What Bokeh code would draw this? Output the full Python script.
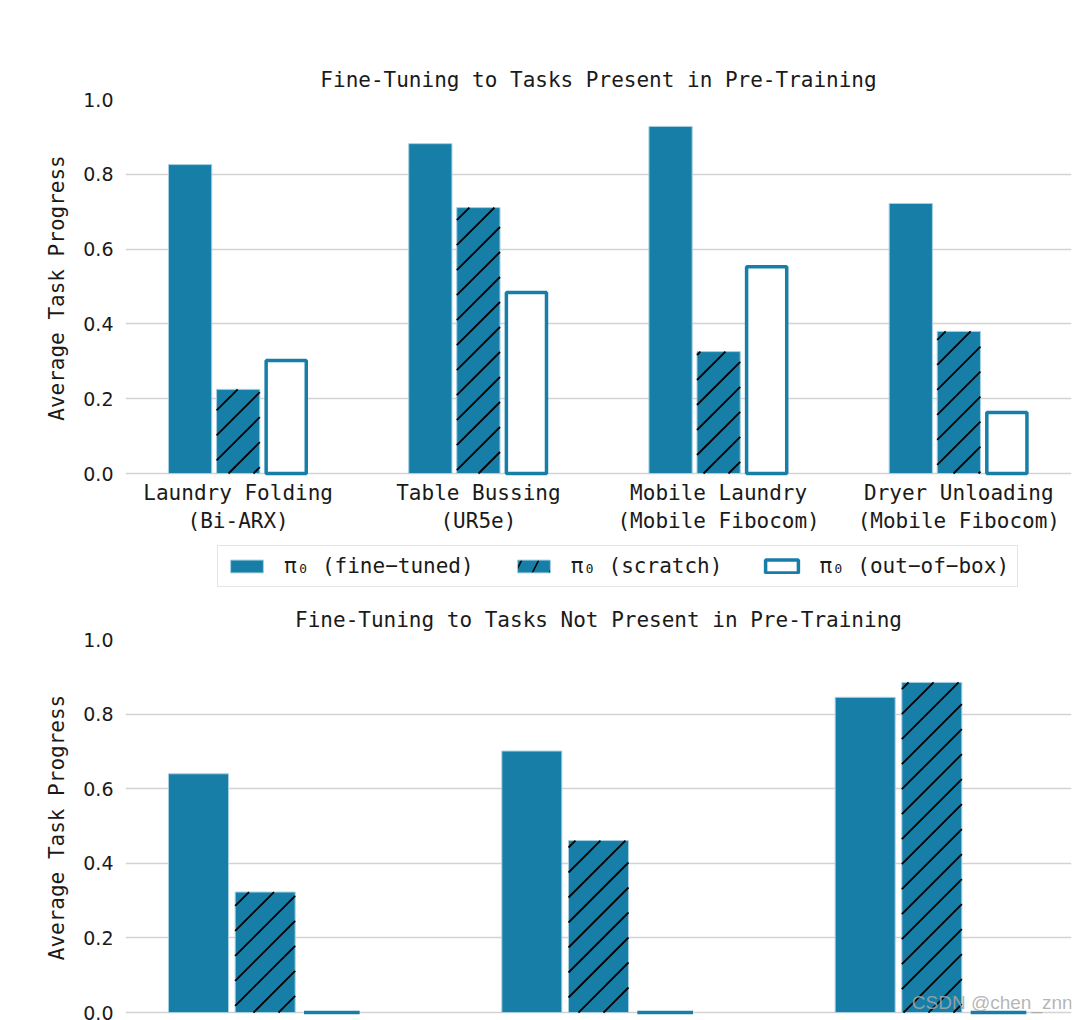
from bokeh.plotting import figure
from bokeh.models import (ColumnDataSource, FixedTicker, Legend, LegendItem, Label,
                          Range1d, PrintfTickFormatter)
from bokeh.layouts import column
from bokeh.embed import file_html
from bokeh.resources import INLINE
from bokeh.transform import dodge

# ---------------- data ----------------
top_title = "Fine-Tuning to Tasks Present in Pre-Training"
bottom_title = "Fine-Tuning to Tasks Not Present in Pre-Training"

top_tasks = ["Laundry Folding\n(Bi-ARX)", "Table Bussing\n(UR5e)",
             "Mobile Laundry\n(Mobile Fibocom)", "Dryer Unloading\n(Mobile Fibocom)"]
top_finetuned = [0.826, 0.882, 0.928, 0.722]
top_scratch = [0.225, 0.711, 0.326, 0.380]
top_outofbox = [0.302, 0.484, 0.553, 0.163]

bottom_finetuned = [0.640, 0.701, 0.845]
bottom_scratch = [0.323, 0.461, 0.885]
bottom_outofbox = [0.0, 0.0, 0.0]

series_labels = ["π₀ (fine−tuned)", "π₀ (scratch)", "π₀ (out−of−box)"]
y_ticks = [0.0, 0.2, 0.4, 0.6, 0.8, 1.0]
y_label = "Average Task Progress"
watermark = "CSDN @chen_znn"

# ---------------- style ----------------
BLUE = "#177fa7"
EDGE = "#a6d0e2"
MONO = "DejaVu Sans Mono"
SANS = "DejaVu Sans"
TXT = "#1a1a1a"
GRID = "#d3d3d3"
FRAME_W = 946
BAR_W = 0.18
HATCH_SPACING_PX = 25

FT_STYLE = dict(fill_color=BLUE, line_color=EDGE, line_width=1)
SC_STYLE = dict(fill_color=BLUE, line_color=EDGE, line_width=1)
OB_STYLE = dict(fill_color="white", line_color=BLUE, line_width=3.5)


def hatch_segments(xs, tops, width, xr, yr, frame_h):
    """45-degree '/' hatch lines (in screen space) clipped to each bar."""
    kx = FRAME_W / (xr[1] - xr[0])
    ky = frame_h / (yr[1] - yr[0])
    x0s, y0s, x1s, y1s = [], [], [], []
    for xc, t in zip(xs, tops):
        uL = (xc - width / 2 - xr[0]) * kx
        uR = (xc + width / 2 - xr[0]) * kx
        vB = (0 - yr[0]) * ky
        vT = (t - yr[0]) * ky
        kmin = int((vB - uR) // HATCH_SPACING_PX) - 1
        kmax = int((vT - uL) // HATCH_SPACING_PX) + 1
        for k in range(kmin, kmax + 1):
            c = k * HATCH_SPACING_PX
            u0 = max(uL, vB - c)
            u1 = min(uR, vT - c)
            if u1 - u0 > 0.5:
                x0s.append(u0 / kx + xr[0]); y0s.append((u0 + c) / ky + yr[0])
                x1s.append(u1 / kx + xr[0]); y1s.append((u1 + c) / ky + yr[0])
    return dict(x0=x0s, y0=y0s, x1=x1s, y1=y1s)


def make_panel(title, ft, sc, ob, frame_h, border_top, border_bottom, xlabels):
    n = len(ft)
    margin = 0.05 * (n - 1 + 0.58) + 0.29
    xr = (-margin, n - 1 + margin)
    yr = (-0.008, 1.0)
    p = figure(frame_width=FRAME_W, frame_height=frame_h,
               x_range=Range1d(*xr), y_range=Range1d(*yr),
               output_backend="svg", toolbar_location=None,
               min_border_left=125, min_border_right=4,
               min_border_top=border_top, min_border_bottom=border_bottom)
    p.outline_line_color = None
    p.background_fill_color = "white"
    p.border_fill_color = "white"

    p.title.text = title
    p.title.text_font = MONO
    p.title.text_font_size = "21px"
    p.title.text_font_style = "normal"
    p.title.text_color = TXT
    p.title.align = "center"
    p.title.standoff = 16

    xs = list(range(n))
    src = ColumnDataSource(dict(x=xs, ft=ft, sc=sc, ob=ob))
    p.vbar(x=dodge("x", -0.2), top="ft", bottom=0, width=BAR_W, source=src, **FT_STYLE)
    p.vbar(x="x", top="sc", bottom=0, width=BAR_W, source=src, **SC_STYLE)
    p.segment(x0="x0", y0="y0", x1="x1", y1="y1",
              source=ColumnDataSource(hatch_segments(xs, sc, BAR_W, xr, yr, frame_h)),
              line_color="black", line_width=1.8)
    p.vbar(x=dodge("x", 0.2), top="ob", bottom=0, width=0.167, source=src, **OB_STYLE)

    p.xgrid.grid_line_color = None
    p.ygrid.grid_line_color = GRID
    p.ygrid.grid_line_width = 1.5

    p.yaxis.ticker = FixedTicker(ticks=y_ticks)
    p.yaxis.formatter = PrintfTickFormatter(format="%.1f")
    p.yaxis.axis_line_color = None
    p.yaxis.major_tick_line_color = None
    p.yaxis.minor_tick_line_color = None
    p.yaxis.major_tick_out = 0
    p.yaxis.major_tick_in = 0
    p.yaxis.major_label_standoff = 12
    p.yaxis.major_label_text_font = SANS
    p.yaxis.major_label_text_font_size = "19px"
    p.yaxis.major_label_text_color = TXT
    p.yaxis.axis_label = y_label
    p.yaxis.axis_label_text_font = MONO
    p.yaxis.axis_label_text_font_size = "21px"
    p.yaxis.axis_label_text_font_style = "normal"
    p.yaxis.axis_label_text_color = TXT
    p.yaxis.axis_label_standoff = 11

    if xlabels is None:
        p.xaxis.visible = False
    else:
        p.xaxis.ticker = FixedTicker(ticks=xs)
        p.xaxis.major_label_overrides = {i: lab for i, lab in enumerate(xlabels)}
        p.xaxis.axis_line_color = None
        p.xaxis.major_tick_line_color = None
        p.xaxis.minor_tick_line_color = None
        p.xaxis.major_tick_out = 0
        p.xaxis.major_tick_in = 0
        p.xaxis.major_label_standoff = 4
        p.xaxis.major_label_text_font = MONO
        p.xaxis.major_label_text_font_size = "21px"
        p.xaxis.major_label_text_color = TXT
    return p, src


top, top_src = make_panel(top_title, top_finetuned, top_scratch, top_outofbox,
                          377, 99, 64, top_tasks)

# legend strip between the two panels; its (tiny) bars sit hidden behind the legend box
leg_fig = figure(width=1075, height=57, x_range=Range1d(-0.469, 3.469),
                 y_range=Range1d(-30, 27),
                 output_backend="svg", toolbar_location=None,
                 min_border_left=125, min_border_right=4, min_border_top=0,
                 min_border_bottom=0)
leg_fig.axis.visible = False
leg_fig.grid.visible = False
leg_fig.outline_line_color = None
lr1 = leg_fig.vbar(x="x", top="ft", bottom=0, width=0.04, source=top_src, **FT_STYLE)
lr2 = leg_fig.vbar(x="x", top="sc", bottom=0, width=0.04, source=top_src,
                   hatch_pattern="/", hatch_color="black", hatch_weight=1.6,
                   hatch_scale=34, **SC_STYLE)
lr3 = leg_fig.vbar(x="x", top="ob", bottom=0, width=0.04, source=top_src, **OB_STYLE)
legend = Legend(items=[LegendItem(label=series_labels[i], renderers=[r])
                       for i, r in enumerate([lr1, lr2, lr3])],
                orientation="horizontal", location=(92, 10),
                glyph_width=41, glyph_height=16, label_standoff=17, spacing=39,
                padding=8, margin=0,
                label_text_font=MONO, label_text_font_size="21px", label_text_color=TXT,
                border_line_color="#cccccc", border_line_width=1.5,
                background_fill_color="white", background_fill_alpha=1.0)
leg_fig.add_layout(legend, "center")

bottom, _ = make_panel(bottom_title, bottom_finetuned, bottom_scratch, bottom_outofbox,
                       376, 40, 6, None)
bottom.add_layout(Label(x=1.94, y=0.026, text=watermark, text_font="Liberation Sans",
                        text_font_size="19px", text_color="#a8a8a8", text_alpha=0.85,
                        text_baseline="middle"))

layout = column(top, leg_fig, bottom, spacing=0)
open("out.html", "w").write(file_html(layout, INLINE))
